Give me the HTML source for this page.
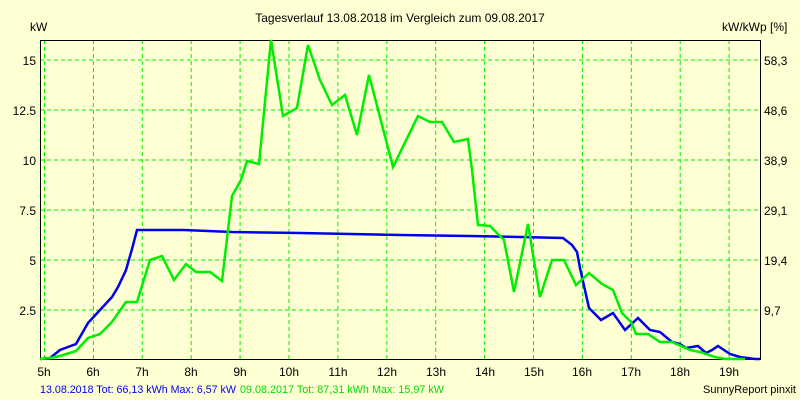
<!DOCTYPE html>
<html><head><meta charset="utf-8"><style>
html,body{margin:0;padding:0;background:#ffffd4;}
svg{display:block;font-family:"Liberation Sans",sans-serif;}
</style></head><body>
<svg width="800" height="400" viewBox="0 0 800 400" xmlns="http://www.w3.org/2000/svg">
<rect width="800" height="400" fill="#ffffd4"/>
<text x="400" y="22" font-size="12" text-anchor="middle">Tagesverlauf 13.08.2018 im Vergleich zum 09.08.2017</text>
<text x="30" y="31" font-size="12">kW</text>
<text x="722" y="31" font-size="12">kW/kWp [%]</text>
<g stroke="#00ee00" stroke-width="1" stroke-dasharray="4,3" fill="none">
<path d="M44.5 40V359M93.4 40V359M142.3 40V359M191.2 40V359M240.1 40V359M289 40V359M337.9 40V359M386.8 40V359M435.7 40V359M484.6 40V359M533.5 40V359M582.4 40V359M631.3 40V359M680.2 40V359M729.1 40V359"/>
<path d="M40 60H760M40 110H760M40 160H760M40 210H760M40 260H760M40 310H760"/>
</g>
<path d="M40.5 40V359.5H760.5V40M40 40.5H760" stroke="#000" stroke-width="1" fill="none"/>
<g font-size="12" text-anchor="end">
<text x="36" y="65">15</text><text x="36" y="115">12.5</text><text x="36" y="165">10</text>
<text x="36" y="215">7.5</text><text x="36" y="265">5</text><text x="36" y="315">2.5</text>
</g>
<g font-size="12">
<text x="764" y="65">58,3</text><text x="764" y="115">48,6</text><text x="764" y="165">38,9</text>
<text x="764" y="215">29,1</text><text x="764" y="265">19,4</text><text x="764" y="315">9,7</text>
</g>
<g font-size="12" text-anchor="middle">
<text x="44" y="376">5h</text><text x="93" y="376">6h</text><text x="142" y="376">7h</text><text x="191" y="376">8h</text><text x="240" y="376">9h</text><text x="289" y="376">10h</text><text x="338" y="376">11h</text><text x="387" y="376">12h</text><text x="436" y="376">13h</text><text x="485" y="376">14h</text><text x="534" y="376">15h</text><text x="582" y="376">16h</text><text x="631" y="376">17h</text><text x="680" y="376">18h</text><text x="729" y="376">19h</text>
</g>
<polyline fill="none" stroke="#0000ee" stroke-width="2.5" points="40,359 50,358 60,350 76,344 88,323 100,310 112,297 118,287 126,270 132,249 137,230 184,230 232,232 300,233 400,235 470,236 520,237 563,238 572,245 577,252 580,268 589,308 601,320 613,313 625,330 638,318 650,330 660,332 672,342 680,344 686,348 698,346 706,353 712,350 718,346 730,354 740,357 755,359 760,359"/>
<polyline fill="none" stroke="#00ee00" stroke-width="2.5" points="40,359 50,358 60,356 76,351 88,338 100,334 112,322 126,302 137,302 150,260 162,256 174,280 186,264 196,272 210,272 222,281 232,196 241,180 247,161 259,164 271,40 283,116 297,108 308,45 320,80 332,105 345,95 357,135 369,75 393,167 418,116 430,122 442,122 454,142 468,139 472,170 478,225 490,226 504,240 514,292 528,224 540,297 552,260 564,260 576,285 589,273 602,284 613,290 622,313 631,322 636,334 648,334 660,342 672,342 690,350 700,352 715,357 725,359 745,359"/>
<text x="40" y="393" font-size="11" fill="#0000ee" textLength="196" lengthAdjust="spacingAndGlyphs">13.08.2018 Tot: 66,13 kWh Max: 6,57 kW</text>
<text x="240" y="393" font-size="11" fill="#00dd00" textLength="204" lengthAdjust="spacingAndGlyphs">09.08.2017 Tot: 87,31 kWh Max: 15,97 kW</text>
<text x="796" y="393" font-size="11" text-anchor="end">SunnyReport pinxit</text>
</svg>
</body></html>
